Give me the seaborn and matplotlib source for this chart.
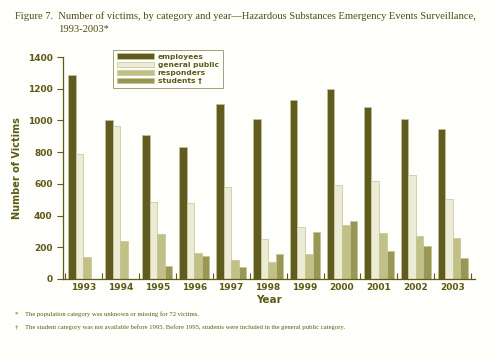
import pandas as pd
import seaborn as sns
import matplotlib.pyplot as plt

years = ['1993', '1994', '1995', '1996', '1997', '1998', '1999', '2000', '2001', '2002', '2003']
employees = [1290, 1000, 910, 832, 1105, 1009, 1127, 1200, 1086, 1009, 944]
general_public = [788, 965, 484, 480, 582, 252, 330, 595, 616, 654, 502]
responders = [141, 240, 282, 162, 120, 107, 160, 339, 290, 271, 258]
students = [0, 0, 82, 145, 78, 156, 296, 366, 178, 210, 130]

categories = ['employees', 'general public', 'responders', 'students \u2020']
colors = ['#6b6414', '#f0eed2', '#c9c97e', '#a4a24a']
olive = '#5c5a14'

df = pd.DataFrame({'Year': years, categories[0]: employees, categories[1]: general_public,
                   categories[2]: responders, categories[3]: students})
df = df.melt(id_vars='Year', var_name='Category', value_name='Victims')

sns.set_style('white')
plt.rcParams['font.family'] = ['DejaVu Sans']

fig = plt.figure(figsize=(5, 3.59), dpi=100, facecolor='#fefefb')
ax = fig.add_axes([0.126, 0.223, 0.824, 0.618])
ax.set_facecolor('#fefefb')

sns.barplot(data=df, x='Year', y='Victims', hue='Category', palette=colors,
            width=0.82, edgecolor='#c6c392', linewidth=0.5, ax=ax)

ax.set_xlim(-0.55, 10.6)
ax.set_ylim(0, 1400)
ax.set_yticks(range(0, 1401, 200))
ax.set_xticks([i + 0.5 for i in range(-1, 11)], minor=True)

for s in ['top', 'right']:
    ax.spines[s].set_visible(False)
for s in ['left', 'bottom']:
    ax.spines[s].set_color(olive)
    ax.spines[s].set_linewidth(0.9)

ax.tick_params(axis='y', direction='out', length=4, width=0.8, color=olive,
               labelsize=6.5, labelcolor=olive, left=True)
ax.tick_params(axis='x', which='major', length=0, labelsize=6.5, labelcolor=olive, pad=3)
ax.tick_params(axis='x', which='minor', direction='in', length=4, width=0.8, color=olive, bottom=True)
for lab in ax.get_xticklabels() + ax.get_yticklabels():
    lab.set_fontweight('bold')

ax.set_xlabel('Year', fontsize=7.5, fontweight='bold', color=olive, labelpad=2)
ax.set_ylabel('Number of Victims', fontsize=7, fontweight='bold', color=olive, labelpad=4)

leg = ax.legend(loc='upper left', bbox_to_anchor=(0.218, 0.872), bbox_transform=fig.transFigure,
                fontsize=5.4, frameon=True, fancybox=False, handlelength=5, handleheight=0.7,
                labelspacing=0.25, borderpad=0.5, handletextpad=0.5)
leg.get_frame().set_edgecolor('#8a875a')
leg.get_frame().set_linewidth(0.7)
leg.get_frame().set_facecolor('#fefefb')
for t in leg.get_texts():
    t.set_color(olive)
    t.set_fontweight('bold')

fig.text(0.03, 0.955, 'Figure 7.  Number of victims, by category and year\u2014Hazardous Substances Emergency Events Surveillance,',
         family='Liberation Serif', fontsize=7.6, color='#4f4d12', va='center')
fig.text(0.116, 0.918, '1993-2003*', family='Liberation Serif', fontsize=7.6, color='#4f4d12', va='center')

fig.text(0.03, 0.125, '*', family='Liberation Serif', fontsize=5, color=olive, va='center')
fig.text(0.05, 0.125, 'The population category was unknown or missing for 72 victims.',
         family='Liberation Serif', fontsize=4.8, color=olive, va='center')
fig.text(0.03, 0.089, '\u2020', family='Liberation Serif', fontsize=5, color=olive, va='center')
fig.text(0.05, 0.089, 'The student category was not available before 1995. Before 1995, students were included in the general public category.',
         family='Liberation Serif', fontsize=4.8, color=olive, va='center')

fig.savefig('out.png', dpi=100, facecolor=fig.get_facecolor())
